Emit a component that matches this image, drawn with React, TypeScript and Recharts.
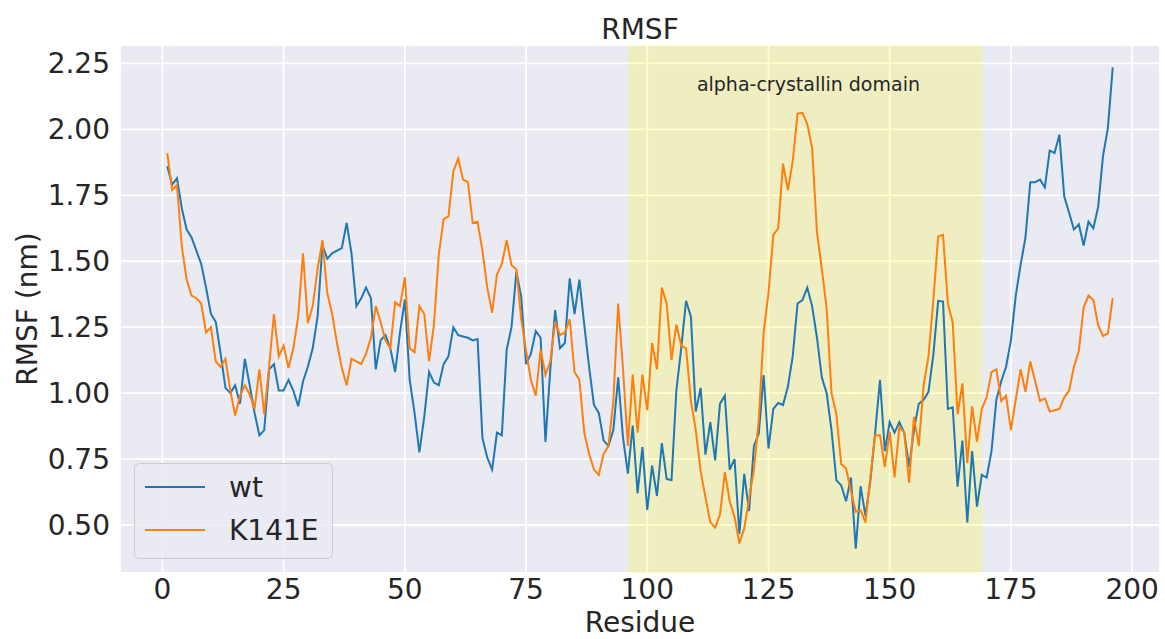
import React from "react";
import {
  LineChart,
  Line,
  XAxis,
  YAxis,
  CartesianGrid,
  ReferenceArea,
  Legend,
} from "recharts";

// RMSF per residue
const wt = [
  1.86, 1.79, 1.815, 1.7, 1.62, 1.59, 1.54, 1.49, 1.4, 1.3,
  1.27, 1.15, 1.02, 1.0, 1.03, 0.96, 1.13, 1.03, 0.925, 0.84,
  0.86, 1.09, 1.11, 1.01, 1.01, 1.05, 1.01, 0.95, 1.045, 1.1,
  1.17, 1.29, 1.56, 1.51, 1.53, 1.54, 1.55, 1.645, 1.53, 1.33,
  1.36, 1.4, 1.36, 1.09, 1.2, 1.22, 1.17, 1.08, 1.23, 1.355,
  1.05, 0.925, 0.775, 0.91, 1.08, 1.04, 1.03, 1.11, 1.14, 1.25,
  1.22, 1.215, 1.21, 1.2, 1.205, 0.83, 0.755, 0.71, 0.85, 0.84,
  1.165, 1.25, 1.46, 1.365, 1.11, 1.15, 1.235, 1.21, 0.815, 1.09,
  1.315, 1.17, 1.19, 1.435, 1.3, 1.43, 1.26, 1.1, 0.955, 0.925,
  0.82, 0.8, 0.86, 1.06, 0.83, 0.695, 0.877, 0.62, 0.795, 0.557,
  0.725, 0.61, 0.81, 0.675, 0.67, 1.01, 1.17, 1.35, 1.29, 0.93,
  1.02, 0.767, 0.89, 0.745, 0.96, 0.99, 0.71, 0.75, 0.466, 0.694,
  0.553, 0.8, 0.847, 1.068, 0.79, 0.94, 0.963, 0.955, 1.024, 1.14,
  1.34, 1.353, 1.4, 1.33, 1.21, 1.06, 1.0, 0.86, 0.67, 0.65,
  0.59, 0.68, 0.41, 0.647, 0.535, 0.665, 0.85, 1.05, 0.78, 0.89,
  0.85, 0.89, 0.85, 0.72, 0.86, 0.96, 0.975, 1.005, 1.145, 1.35,
  1.347, 0.94, 0.946, 0.645, 0.82, 0.51, 0.78, 0.57, 0.69, 0.68,
  0.78, 0.975, 1.045, 1.1, 1.2, 1.37, 1.486, 1.59, 1.8, 1.8,
  1.81, 1.78, 1.92, 1.91, 1.98, 1.745, 1.684, 1.62, 1.64, 1.56,
  1.65, 1.625, 1.706, 1.9, 2.005, 2.235,
];

const k141e = [
  1.91, 1.77, 1.79, 1.555, 1.43, 1.37, 1.36, 1.34, 1.23, 1.25,
  1.12, 1.1, 1.13, 1.01, 0.915, 0.99, 1.03, 0.995, 0.94, 1.09,
  0.92, 1.1, 1.3, 1.14, 1.18, 1.095, 1.17, 1.29, 1.53, 1.265,
  1.33, 1.47, 1.58, 1.38, 1.3, 1.19, 1.095, 1.03, 1.13, 1.12,
  1.11, 1.15, 1.21, 1.33, 1.27, 1.2, 1.17, 1.345, 1.33, 1.44,
  1.17, 1.155, 1.33, 1.3, 1.12, 1.26, 1.525, 1.66, 1.67, 1.84,
  1.89, 1.81, 1.8, 1.645, 1.65, 1.54, 1.4, 1.305, 1.45, 1.49,
  1.58, 1.485, 1.47, 1.28, 1.16, 1.05, 0.99, 1.165, 1.07, 1.12,
  1.27, 1.22, 1.23, 1.28, 1.08, 1.05, 0.85, 0.77, 0.71, 0.69,
  0.77, 0.8, 0.97, 1.34, 1.09, 0.8, 1.07, 0.85, 1.07, 0.935,
  1.19, 1.09, 1.4, 1.34, 1.125, 1.26, 1.18, 1.17, 0.97, 0.86,
  0.705, 0.605, 0.51, 0.49, 0.54, 0.7, 0.59, 0.53, 0.43, 0.487,
  0.6, 0.71, 0.9, 1.23, 1.38, 1.6, 1.625, 1.87, 1.77, 1.88,
  2.06, 2.063, 2.02, 1.93, 1.61, 1.47, 1.32, 1.0, 0.92, 0.73,
  0.715, 0.63, 0.55, 0.556, 0.51, 0.68, 0.84, 0.84, 0.72, 0.854,
  0.68, 0.873, 0.85, 0.66, 0.91, 0.8, 1.03, 1.14, 1.353, 1.594,
  1.6, 1.34, 1.267, 0.92, 1.037, 0.734, 0.95, 0.816, 0.94, 0.985,
  1.08, 1.09, 0.97, 0.99, 0.86, 0.975, 1.09, 1.005, 1.12, 1.045,
  0.97, 0.98, 0.93, 0.935, 0.94, 0.984, 1.01, 1.1, 1.16, 1.325,
  1.37, 1.353, 1.258, 1.216, 1.227, 1.36,
];

const residues = wt.map((_, i) => i + 1);

const xTicks = [0, 25, 50, 75, 100, 125, 150, 175, 200];
const yTicks = [0.5, 0.75, 1.0, 1.25, 1.5, 1.75, 2.0, 2.25];

// alpha-crystallin domain span
const domainStart = 96;
const domainEnd = 169;
const domainLabel = "alpha-crystallin domain";

const series = [
  { key: "wt", name: "wt", color: "#1f77b4" },
  { key: "k141e", name: "K141E", color: "#ff7f0e" },
];

const data = residues.map((r, i) => ({ residue: r, wt: wt[i], k141e: k141e[i] }));

const FONT = "'DejaVu Sans', sans-serif";
const TEXT = "#262626";

function LegendBox() {
  return (
    <svg width={200} height={97}>
      <rect
        x={0.5}
        y={0.5}
        width={198}
        height={95}
        rx={5}
        fill="#EAEAF2"
        fillOpacity={0.8}
        stroke="#cccccc"
      />
      {series.map((s, i) => (
        <g key={s.key}>
          <line x1={11} x2={71} y1={24 + i * 43} y2={24 + i * 43} stroke={s.color} strokeWidth={2} />
          <text x={95} y={34 + i * 43} fontSize={28} fontFamily={FONT} fill={TEXT}>
            {s.name}
          </text>
        </g>
      ))}
    </svg>
  );
}

export default function App() {
  return (
    <div style={{ position: "absolute", left: 0, top: 0, width: 1165, height: 639, background: "#fff" }}>
      <svg
        width={1165}
        height={45}
        style={{ position: "absolute", left: 0, top: 0 }}
      >
        <text x={640} y={39} textAnchor="middle" fontSize={28} fontFamily={FONT} fill={TEXT}>
          RMSF
        </text>
      </svg>
      <LineChart
        width={1165}
        height={639}
        data={data}
        margin={{ top: 45, right: 5, bottom: 0, left: 0 }}
        style={{ fontFamily: FONT }}
      >
        <CartesianGrid
          fill="#EAEAF2"
          fillOpacity={1}
          stroke="#ffffff"
          strokeWidth={1.8}
        />
        <XAxis
          dataKey="residue"
          type="number"
          domain={[-8.75, 205.75]}
          ticks={xTicks}
          axisLine={false}
          tickLine={false}
          tickMargin={0}
          height={66}
          tick={{ fontSize: 28, fill: TEXT, fontFamily: FONT }}
          label={(props: any) => {
            const vb = props.viewBox;
            return (
              <text
                x={vb.x + vb.width / 2}
                y={vb.y + vb.height - 7}
                textAnchor="middle"
                fontSize={28}
                fontFamily={FONT}
                fill={TEXT}
              >
                Residue
              </text>
            );
          }}
        />
        <YAxis
          type="number"
          domain={[0.318, 2.32]}
          ticks={yTicks}
          allowDataOverflow
          axisLine={false}
          tickLine={false}
          tickMargin={4}
          width={120}
          tickFormatter={(v: number) => v.toFixed(2)}
          tick={{ fontSize: 28, fill: TEXT, fontFamily: FONT }}
          label={(props: any) => {
            const vb = props.viewBox;
            const cy = vb.y + vb.height / 2;
            return (
              <text
                x={37}
                y={cy}
                transform={`rotate(-90, 37, ${cy})`}
                textAnchor="middle"
                fontSize={28}
                fontFamily={FONT}
                fill={TEXT}
              >
                RMSF (nm)
              </text>
            );
          }}
        />
        <ReferenceArea
          x1={domainStart}
          x2={domainEnd}
          fill="#ffff00"
          fillOpacity={0.2}
          stroke="none"
          ifOverflow="hidden"
          label={(props: any) => {
            const vb = props.viewBox;
            return (
              <text
                x={vb.x + 69}
                y={vb.y + 46}
                fontSize={19}
                fontFamily={FONT}
                fill={TEXT}
              >
                {domainLabel}
              </text>
            );
          }}
        />
        {series.map((s) => (
          <Line
            key={s.key}
            type="linear"
            dataKey={s.key}
            name={s.name}
            stroke={s.color}
            strokeWidth={2}
            dot={false}
            activeDot={false}
            isAnimationActive={false}
          />
        ))}
        <Legend
          layout="vertical"
          align="center"
          verticalAlign="middle"
          wrapperStyle={{ left: 134, top: 463, width: 200, height: 97 }}
          content={() => <LegendBox />}
        />
      </LineChart>
    </div>
  );
}
